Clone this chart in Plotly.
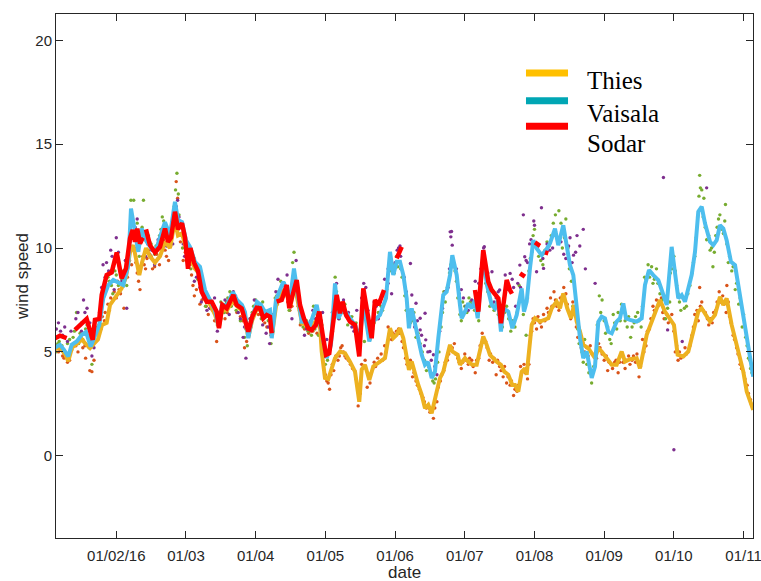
import plotly.graph_objects as go

# Time axis: fractional months since 1 Jan 2016 (1 = 1 Feb, 2 = 1 Mar, ...)
tick_pos = [1, 2, 3, 4, 5, 6, 7, 8, 9, 10]
tick_labels = ["01/02/16", "01/03", "01/04", "01/05", "01/06", "01/07",
               "01/08", "01/09", "01/10", "01/11"]
y_ticks = [0, 5, 10, 15, 20]

# Smoothed series
thies_t = [0.121, 0.192, 0.264, 0.311, 0.364, 0.436, 0.508, 0.551, 0.623, 0.680, 0.737, 0.795, 0.862, 0.910,
           1.006, 1.077, 1.139, 1.197, 1.244, 1.283, 1.330, 1.369, 1.426, 1.483, 1.555, 1.627, 1.699, 1.770,
           1.842, 1.885, 1.943, 2.000, 2.057, 2.129, 2.201, 2.273, 2.344, 2.416, 2.473, 2.516, 2.588, 2.674,
           2.732, 2.803, 2.846, 2.894, 2.947, 3.019, 3.076, 3.133, 3.205, 3.234, 3.291, 3.349, 3.406, 3.463,
           3.506, 3.549, 3.607, 3.664, 3.722, 3.779, 3.875, 3.922, 3.947, 3.994, 4.042, 4.090, 4.138, 4.209,
           4.281, 4.353, 4.425, 4.486, 4.521, 4.568, 4.630, 4.687, 4.759, 4.855, 4.927, 4.974, 5.023, 5.070,
           5.118, 5.166, 5.199, 5.238, 5.285, 5.333, 5.382, 5.429, 5.476, 5.525, 5.597, 5.644, 5.691, 5.740,
           5.788, 5.821, 5.898, 5.931, 6.003, 6.050, 6.108, 6.171, 6.218, 6.265, 6.314, 6.361, 6.458, 6.519,
           6.567, 6.624, 6.682, 6.720, 6.767, 6.816, 6.863, 6.888, 6.960, 7.007, 7.079, 7.198, 7.247, 7.318,
           7.366, 7.413, 7.470, 7.524, 7.567, 7.605, 7.653, 7.700, 7.772, 7.868, 7.915, 7.964, 8.036, 8.108,
           8.179, 8.251, 8.298, 8.370, 8.466, 8.513, 8.610, 8.681, 8.753, 8.800, 8.872, 8.944, 9.001, 9.054,
           9.135, 9.207, 9.279, 9.350, 9.399, 9.470, 9.518, 9.590, 9.661, 9.709, 9.757, 9.829, 9.901, 9.948,
           9.996, 10.045, 10.092, 10.138]
thies_v = [5.15, 5.2, 4.9, 4.55, 5.2, 5.4, 5.6, 5.42, 5.18, 5.4, 5.6, 6.3, 6.4, 7.26,
           7.74, 8.06, 8.6, 9.8, 10.14, 9.5, 8.7, 9.3, 10.0, 9.6, 9.3, 9.6, 10.3, 10.0,
           11.3, 10.6, 10.7, 10.0, 9.6, 9.0, 8.8, 7.6, 7.3, 6.8, 6.2, 7.0, 7.0, 7.5,
           7.2, 7.0, 6.6, 5.7, 6.5, 7.1, 7.0, 6.7, 6.8, 5.8, 7.2, 7.7, 8.0, 7.6,
           7.3, 8.4, 7.5, 6.4, 6.3, 6.2, 6.5, 6.3, 5.02, 3.75, 3.7, 4.2, 4.7, 5.02,
           4.94, 4.53, 4.05, 2.6, 4.15, 4.38, 3.65, 4.3, 4.45, 4.7, 6.14, 5.66, 5.82, 6.14,
           5.66, 4.86, 4.13, 4.53, 3.9, 3.41, 2.93, 2.29, 2.45, 2.05, 3.09, 3.74, 4.05, 4.7,
           5.34, 5.02, 4.86, 4.38, 4.7, 4.53, 4.38, 4.38, 5.02, 5.74, 5.34, 4.86, 4.53, 4.38,
           4.05, 3.9, 3.41, 3.41, 3.09, 4.05, 4.21, 3.9, 6.3, 6.62, 6.46, 6.62, 7.1, 7.42,
           7.1, 7.82, 7.1, 6.62, 7.26, 6.46, 5.98, 5.34, 5.18, 4.7, 5.18, 5.02, 4.7, 4.38,
           4.38, 5.02, 4.53, 4.65, 4.7, 4.21, 5.82, 6.46, 7.1, 7.5, 6.94, 6.62, 6.3, 4.86,
           4.78, 5.02, 5.98, 6.94, 7.1, 6.7, 6.46, 6.78, 7.66, 7.26, 7.58, 6.3, 5.34, 4.53,
           4.05, 3.09, 2.61, 2.21]

vaisala_t = [0.121, 0.192, 0.250, 0.311, 0.360, 0.432, 0.504, 0.565, 0.633, 0.694, 0.756, 0.813, 0.885, 0.957,
             1.024, 1.100, 1.172, 1.211, 1.268, 1.316, 1.364, 1.436, 1.508, 1.570, 1.651, 1.699, 1.770, 1.842,
             1.885, 1.943, 2.000, 2.057, 2.129, 2.201, 2.273, 2.344, 2.416, 2.463, 2.516, 2.588, 2.674, 2.732,
             2.803, 2.846, 2.894, 2.947, 3.019, 3.076, 3.133, 3.205, 3.230, 3.291, 3.349, 3.396, 3.449, 3.492,
             3.549, 3.607, 3.660, 3.722, 3.779, 3.875, 3.937, 4.019, 4.080, 4.138, 4.185, 4.257, 4.353, 4.425,
             4.496, 4.547, 4.582, 4.630, 4.687, 4.783, 4.869, 4.927, 4.974, 5.023, 5.070, 5.118, 5.166, 5.199,
             5.238, 5.333, 5.382, 5.429, 5.472, 5.525, 5.572, 5.620, 5.691, 5.740, 5.788, 5.821, 5.884, 5.931,
             5.955, 6.003, 6.050, 6.099, 6.146, 6.185, 6.232, 6.265, 6.318, 6.386, 6.433, 6.476, 6.519, 6.552,
             6.624, 6.682, 6.745, 6.816, 6.849, 6.888, 6.935, 6.983, 7.032, 7.103, 7.165, 7.222, 7.294, 7.341,
             7.413, 7.462, 7.509, 7.557, 7.605, 7.653, 7.700, 7.749, 7.821, 7.868, 7.915, 7.964, 8.011, 8.059,
             8.108, 8.179, 8.227, 8.274, 8.313, 8.370, 8.466, 8.538, 8.585, 8.643, 8.704, 8.776, 8.825, 8.897,
             8.968, 9.016, 9.063, 9.112, 9.159, 9.255, 9.303, 9.350, 9.399, 9.446, 9.518, 9.565, 9.614, 9.661,
             9.709, 9.757, 9.819, 9.877, 9.948, 9.996, 10.045, 10.092, 10.138]
vaisala_v = [5.21, 5.34, 5.1, 4.78, 5.34, 5.5, 5.82, 5.96, 5.26, 5.82, 6.3, 7.58, 8.22, 8.46,
             8.37, 8.22, 9.18, 11.9, 10.78, 9.82, 10.94, 10.3, 9.98, 9.9, 10.78, 11.25, 10.62, 12.23,
             11.35, 11.25, 10.38, 10.06, 9.33, 9.1, 7.98, 7.5, 7.02, 6.3, 7.26, 7.26, 7.88, 7.5,
             7.26, 6.92, 5.66, 6.63, 7.4, 7.26, 6.92, 7.02, 5.66, 7.5, 8.06, 8.38, 7.98, 7.5,
             9.02, 7.74, 6.46, 6.44, 6.3, 7.26, 6.06, 4.7, 5.34, 8.3, 6.62, 7.1, 6.62, 6.3,
             5.66, 7.5, 6.54, 5.5, 6.46, 6.78, 7.58, 9.82, 8.7, 9.34, 9.34, 8.7, 7.58, 6.14,
             7.1, 5.66, 4.86, 4.38, 4.52, 3.74, 4.05, 5.66, 7.74, 7.9, 8.7, 9.66, 8.7, 7.26,
             6.62, 6.94, 7.34, 7.1, 7.5, 6.62, 8.4, 9.66, 8.22, 7.26, 7.1, 7.5, 5.98, 7.1,
             6.94, 6.14, 6.78, 8.06, 6.94, 7.42, 9.02, 10.38, 9.98, 9.66, 9.9, 10.22, 10.94, 10.14,
             11.1, 10.14, 9.18, 8.7, 7.26, 5.66, 4.7, 5.02, 3.75, 4.29, 6.44, 6.7, 6.62, 5.98,
             5.9, 6.46, 6.63, 7.34, 6.62, 6.54, 6.46, 6.62, 8.22, 8.94, 8.7, 8.46, 7.98, 7.26,
             10.06, 8.86, 7.58, 7.74, 7.42, 8.7, 9.82, 11.75, 11.99, 11.19, 10.3, 10.14, 10.38, 11.1,
             10.94, 10.38, 9.34, 9.18, 7.74, 6.62, 5.66, 4.53, 3.81]

# Sodar has gaps (None) where too few samples were available
sodar_t = [0.121, 0.192, 0.288, None,
           0.407, 0.455, 0.527, 0.575, 0.661, 0.694, 0.756, 0.791, 0.862, 0.934, 1.006, 1.077, 1.139, 1.197,
           1.235, 1.268, 1.301, 1.340, 1.379, None,
           1.426, 1.483, 1.555, 1.627, 1.699, 1.742, 1.785, 1.842, 1.885, 1.943, 1.986, 2.029, 2.064, 2.115,
           2.172, 2.225, 2.297, 2.369, 2.440, 2.473, 2.521, 2.584, 2.679, 2.727, 2.799, 2.836, 2.894, 2.951,
           3.014, 3.062, 3.109, 3.158, 3.205, 3.230, None,
           3.301, 3.373, 3.445, 3.482, 3.535, 3.588, 3.636, 3.693, 3.755, 3.803, 3.865, 3.912, 3.961, 4.009,
           4.056, 4.113, 4.162, 4.209, 4.248, 4.296, 4.353, 4.425, 4.486, 4.544, 4.616, 4.664, 4.712, 4.759,
           4.798, 4.841, None,
           5.023, 5.056, 5.095, None,
           6.146, 6.194, 6.265, 6.337, 6.386, 6.433, 6.481, 6.519, 6.555, 6.601, 6.648, 6.677, None,
           6.792, 6.863, None, 7.007, 7.079, None, 7.151, 7.198]
sodar_v = [5.66, 5.78, 5.66, None,
           6.06, 6.22, 6.4, 6.59, 5.58, 6.54, 6.59, 7.74, 8.70, 8.83, 9.79, 8.54, 9.02, 10.47,
           10.87, 10.3, 10.94, 10.22, 10.5, None,
           10.9, 10.14, 9.79, 10.06, 10.94, 10.3, 10.5, 11.75, 10.9, 11.2, 10.5, 9.0, 10.0, 9.3,
           8.9, 7.9, 7.42, 7.42, 6.94, 6.14, 7.26, 7.1, 7.74, 7.26, 7.1, 6.62, 5.98, 6.7,
           7.13, 7.1, 6.62, 6.78, 6.7, 5.9, None,
           7.42, 7.5, 8.22, 7.1, 7.8, 8.46, 7.26, 6.6, 6.14, 6.06, 6.3, 6.94, 5.82, 4.86,
           4.94, 6.62, 7.74, 6.86, 7.42, 6.78, 6.46, 6.3, 4.78, 8.06, 6.78, 5.66, 7.5, 7.26,
           7.58, 7.98, None,
           9.5, 9.8, 10.06, None,
           7.98, 6.94, 9.9, 8.38, 7.98, 7.8, 7.58, 6.38, 7.3, 8.46, 7.98, 7.8, None,
           8.78, 8.62, None, 10.27, 10.11, None, 9.79, 9.74]

# Raw samples
thies_raw_t = [0.14, 0.2, 0.25, 0.3, 0.36, 0.42, 0.47, 0.52, 0.56, 0.62, 0.64, 0.65, 0.7, 0.75, 0.8, 0.84,
               0.88, 0.92, 0.97, 1.02, 1.06, 1.11, 1.16, 1.22, 1.26, 1.3, 1.34, 1.38, 1.42, 1.46, 1.5, 1.55,
               1.6, 1.65, 1.7, 1.75, 1.8, 1.86, 1.88, 1.92, 1.96, 2.02, 2.08, 2.12, 2.2, 2.26, 2.32, 2.38,
               2.44, 2.5, 2.56, 2.62, 2.7, 2.78, 2.84, 2.9, 2.96, 3.04, 3.1, 3.16, 3.22, 3.28, 3.34, 3.4,
               3.46, 3.52, 3.58, 3.64, 3.7, 3.76, 3.82, 3.88, 3.94, 3.98, 4.02, 4.06, 4.12, 4.18, 4.22, 4.26,
               4.3, 4.36, 4.42, 4.47, 4.5, 4.55, 4.6, 4.66, 4.7, 4.75, 4.8, 4.85, 4.9, 4.95, 5.0, 5.05,
               5.1, 5.15, 5.2, 5.25, 5.3, 5.35, 5.4, 5.45, 5.5, 5.55, 5.6, 5.65, 5.7, 5.75, 5.8, 5.85,
               5.9, 5.95, 6.0, 6.05, 6.1, 6.15, 6.2, 6.25, 6.3, 6.35, 6.4, 6.45, 6.5, 6.55, 6.6, 6.65,
               6.7, 6.75, 6.8, 6.85, 6.9, 6.94, 6.98, 7.03, 7.08, 7.13, 7.18, 7.23, 7.28, 7.32, 7.37, 7.42,
               7.47, 7.52, 7.57, 7.62, 7.67, 7.72, 7.77, 7.83, 7.89, 7.94, 8.0, 8.05, 8.1, 8.15, 8.2, 8.25,
               8.3, 8.35, 8.4, 8.45, 8.5, 8.55, 8.6, 8.65, 8.7, 8.75, 8.8, 8.86, 8.92, 8.97, 9.02, 9.06,
               9.1, 9.16, 9.2, 9.26, 9.3, 9.35, 9.37, 9.4, 9.45, 9.5, 9.55, 9.6, 9.65, 9.7, 9.75, 9.76,
               9.8, 9.85, 9.9, 9.95, 10.0, 10.05, 10.1, 10.13,
               0.17, 0.23, 0.33, 0.39, 0.45, 0.5, 0.55, 0.6, 0.68, 0.72, 0.78, 0.83, 0.9, 0.95, 1.0, 1.04,
               1.09, 1.13, 1.19, 1.28, 1.32, 1.4, 1.44, 1.52, 1.58, 1.62, 1.68, 1.72, 1.78, 1.83, 1.9, 1.94,
               1.99, 2.05, 2.1, 2.15, 2.23, 2.29, 2.35, 2.41, 2.47, 2.53, 2.59, 2.66, 2.73, 2.81, 2.87, 2.93,
               2.99, 3.07, 3.13, 3.19, 3.25, 3.31, 3.37, 3.43, 3.49, 3.55, 3.61, 3.67, 3.73, 3.79, 3.85, 3.91,
               3.96, 4.0, 4.04, 4.08, 4.1, 4.15, 4.2, 4.24, 4.28, 4.33, 4.39, 4.44, 4.48, 4.52, 4.57, 4.62,
               4.64, 4.68, 4.72, 4.77, 4.82, 4.87, 4.92, 4.97, 5.02, 5.07, 5.12, 5.17, 5.22, 5.27, 5.32, 5.37,
               5.42, 5.47, 5.52, 5.57, 5.62, 5.67, 5.72, 5.77, 5.82, 5.87, 5.92, 5.97, 6.02, 6.07, 6.12, 6.17,
               6.22, 6.27, 6.32, 6.37, 6.42, 6.47, 6.52, 6.57, 6.62, 6.67, 6.72, 6.77, 6.82, 6.87, 6.92, 6.96,
               7.0, 7.05, 7.1, 7.15, 7.2, 7.25, 7.3, 7.35, 7.4, 7.45, 7.5, 7.55, 7.6, 7.65, 7.7, 7.75,
               7.8, 7.86, 7.92, 7.97, 8.03, 8.07, 8.12, 8.17, 8.22, 8.27, 8.32, 8.37, 8.42, 8.47, 8.52, 8.57,
               8.62, 8.67, 8.72, 8.77, 8.82, 8.84, 8.9, 8.95, 9.0, 9.04, 9.08, 9.13, 9.18, 9.23, 9.28, 9.33,
               9.38, 9.42, 9.48, 9.52, 9.57, 9.62, 9.67, 9.72, 9.78, 9.82, 9.87, 9.92, 9.97, 10.02, 10.07, 10.11]
thies_raw_v = [5.3, 5.1, 4.7, 4.5, 5.1, 5.3, 5.6, 5.2, 4.7, 4.1, 5.5, 4.05, 5.5, 6.3, 6.7, 6.9,
               7.3, 7.6, 7.9, 8.4, 7.8, 7.1, 8.6, 9.2, 10.0, 8.8, 8.0, 9.6, 9.0, 9.9, 9.6, 9.1,
               9.5, 10.1, 9.9, 9.4, 10.6, 13.2, 12.4, 10.3, 9.4, 9.5, 8.7, 7.7, 7.3, 8.1, 6.8, 7.0,
               5.5, 6.8, 6.6, 7.2, 7.3, 6.7, 5.2, 5.8, 6.9, 6.8, 6.6, 6.2, 5.8, 7.0, 7.5, 7.7,
               7.4, 7.2, 8.2, 6.3, 6.1, 5.9, 6.0, 5.9, 6.5, 4.4, 3.6, 3.2, 4.1, 4.6, 5.2, 5.0,
               4.7, 4.4, 4.1, 2.4, 3.0, 4.3, 3.3, 4.0, 4.5, 4.7, 4.9, 5.3, 6.2, 5.6, 5.8, 6.1,
               5.5, 4.7, 4.3, 3.8, 3.6, 3.2, 2.8, 2.3, 2.1, 1.8, 2.6, 3.6, 4.1, 4.6, 5.1, 5.4,
               4.7, 4.2, 4.9, 4.4, 4.6, 4.0, 4.7, 5.9, 5.5, 4.6, 4.5, 3.9, 4.3, 3.8, 3.5, 3.4,
               2.9, 3.1, 4.3, 4.4, 3.7, 5.8, 6.6, 6.1, 6.4, 6.8, 7.1, 7.6, 7.9, 7.2, 7.6, 8.1,
               7.3, 6.6, 6.9, 5.7, 5.2, 5.0, 4.8, 4.9, 4.7, 5.2, 4.6, 4.1, 4.4, 4.5, 4.0, 4.9,
               4.2, 4.8, 4.6, 4.5, 3.8, 5.6, 5.3, 6.1, 7.2, 7.5, 7.3, 6.6, 6.4, 6.8, 5.0, 4.6,
               4.7, 5.2, 5.0, 5.8, 6.8, 6.5, 8.1, 7.4, 6.9, 6.3, 6.4, 7.0, 7.9, 7.7, 6.9, 8.2,
               6.7, 5.8, 5.2, 4.4, 4.0, 3.4, 2.7, 2.3,
               5.0, 4.8, 4.6, 5.4, 5.0, 5.8, 5.3, 5.7, 4.6, 5.9, 6.1, 6.5, 7.0, 7.5, 7.6, 8.0,
               8.3, 8.8, 9.4, 9.3, 8.4, 9.2, 9.5, 9.0, 9.7, 9.2, 10.4, 9.6, 10.1, 11.0, 11.2, 10.7,
               9.8, 9.2, 8.2, 8.0, 7.5, 7.2, 7.5, 6.5, 6.4, 7.3, 6.9, 7.6, 6.9, 6.5, 5.5, 6.2,
               7.2, 7.0, 6.4, 6.9, 6.4, 7.3, 7.9, 7.8, 7.0, 8.0, 7.2, 6.6, 6.2, 6.0, 6.4, 6.2,
               5.3, 3.9, 3.5, 3.9, 4.4, 4.8, 4.8, 5.3, 4.8, 4.6, 4.2, 3.7, 2.8, 4.4, 4.6, 3.8,
               3.5, 4.2, 4.3, 4.5, 4.6, 5.0, 5.9, 5.9, 6.0, 5.9, 5.2, 4.4, 4.6, 4.0, 3.4, 3.0,
               2.6, 2.4, 2.2, 2.3, 3.3, 3.9, 4.5, 4.9, 5.2, 4.9, 4.5, 4.5, 4.6, 4.7, 4.3, 4.6,
               5.3, 5.6, 5.2, 4.9, 4.7, 4.6, 4.1, 4.3, 3.8, 3.6, 3.2, 3.4, 4.0, 4.0, 4.4, 6.0,
               6.4, 6.7, 6.2, 6.5, 6.9, 7.2, 7.5, 7.0, 7.7, 7.8, 6.9, 7.4, 6.2, 5.8, 5.4, 5.2,
               5.3, 4.8, 5.4, 4.9, 4.8, 4.5, 4.2, 4.6, 4.5, 4.5, 4.6, 4.4, 4.8, 4.9, 4.3, 5.0,
               6.0, 6.6, 7.0, 7.2, 7.6, 6.9, 6.8, 6.5, 6.0, 5.3, 5.0, 4.8, 4.9, 5.3, 6.2, 7.0,
               7.2, 7.0, 6.6, 6.6, 6.9, 7.4, 7.4, 7.3, 7.4, 6.4, 5.6, 4.9, 4.2, 3.7, 3.0, 2.5]

vaisala_raw_t = [0.13, 0.18, 0.22, 0.28, 0.33, 0.38, 0.43, 0.48, 0.52, 0.58, 0.65, 0.7, 0.75, 0.8, 0.85, 0.9,
                 0.95, 1.0, 1.05, 1.1, 1.15, 1.21, 1.25, 1.3, 1.35, 1.39, 1.43, 1.48, 1.52, 1.57, 1.62, 1.66,
                 1.7, 1.75, 1.8, 1.85, 1.87, 1.9, 1.95, 1.98, 2.03, 2.07, 2.12, 2.17, 2.22, 2.28, 2.34, 2.4,
                 2.45, 2.5, 2.55, 2.6, 2.65, 2.72, 2.78, 2.84, 2.88, 2.92, 2.97, 3.03, 3.08, 3.13, 3.18, 3.22,
                 3.28, 3.33, 3.38, 3.43, 3.48, 3.55, 3.6, 3.65, 3.7, 3.75, 3.8, 3.85, 3.9, 3.95, 4.0, 4.05,
                 4.1, 4.14, 4.2, 4.26, 4.32, 4.38, 4.44, 4.5, 4.56, 4.62, 4.68, 4.74, 4.8, 4.86, 4.92, 4.97,
                 5.02, 5.08, 5.14, 5.2, 5.24, 5.3, 5.36, 5.42, 5.48, 5.54, 5.58, 5.63, 5.68, 5.72, 5.78, 5.83,
                 5.88, 5.93, 5.97, 6.03, 6.08, 6.14, 6.2, 6.26, 6.3, 6.36, 6.42, 6.48, 6.54, 6.6, 6.66, 6.72,
                 6.78, 6.84, 6.88, 6.92, 6.96, 7.0, 7.06, 7.12, 7.18, 7.24, 7.3, 7.35, 7.4, 7.45, 7.5, 7.55,
                 7.62, 7.68, 7.75, 7.82, 7.88, 7.93, 7.97, 8.02, 8.08, 8.13, 8.18, 8.23, 8.28, 8.33, 8.38, 8.43,
                 8.48, 8.53, 8.58, 8.63, 8.68, 8.72, 8.77, 8.83, 8.88, 8.94, 8.97, 9.02, 9.06, 9.1, 9.15, 9.2,
                 9.26, 9.3, 9.34, 9.37, 9.4, 9.43, 9.47, 9.52, 9.56, 9.6, 9.64, 9.67, 9.71, 9.74, 9.78, 9.83,
                 9.88, 9.93, 9.98, 10.03, 10.07, 10.1,
                 0.16, 0.24, 0.3, 0.36, 0.4, 0.46, 0.5, 0.56, 0.61, 0.68, 0.73, 0.78, 0.83, 0.88, 0.93, 0.98,
                 1.03, 1.08, 1.13, 1.18, 1.23, 1.28, 1.33, 1.37, 1.41, 1.46, 1.5, 1.55, 1.6, 1.64, 1.68, 1.73,
                 1.78, 1.83, 1.89, 1.92, 1.97, 2.01, 2.05, 2.1, 2.15, 2.2, 2.25, 2.31, 2.37, 2.43, 2.48, 2.53,
                 2.58, 2.63, 2.69, 2.75, 2.81, 2.86, 2.9, 2.95, 3.0, 3.05, 3.1, 3.15, 3.2, 3.25, 3.3, 3.36,
                 3.41, 3.46, 3.51, 3.53, 3.58, 3.63, 3.68, 3.73, 3.78, 3.83, 3.88, 3.93, 3.98, 4.03, 4.08, 4.12,
                 4.16, 4.22, 4.28, 4.34, 4.4, 4.46, 4.52, 4.58, 4.64, 4.7, 4.76, 4.82, 4.88, 4.94, 4.99, 5.04,
                 5.1, 5.16, 5.22, 5.27, 5.33, 5.39, 5.45, 5.51, 5.56, 5.61, 5.66, 5.7, 5.75, 5.8, 5.86, 5.9,
                 5.95, 6.0, 6.06, 6.11, 6.17, 6.22, 6.28, 6.33, 6.39, 6.45, 6.51, 6.57, 6.63, 6.69, 6.75, 6.81,
                 6.86, 6.9, 6.94, 6.98, 7.03, 7.09, 7.15, 7.21, 7.27, 7.33, 7.38, 7.43, 7.48, 7.53, 7.58, 7.64,
                 7.7, 7.72, 7.78, 7.85, 7.9, 7.95, 8.0, 8.05, 8.1, 8.15, 8.2, 8.25, 8.3, 8.35, 8.4, 8.45,
                 8.5, 8.55, 8.6, 8.65, 8.7, 8.75, 8.8, 8.86, 8.91, 8.95, 9.0, 9.04, 9.08, 9.13, 9.18, 9.23,
                 9.28, 9.32, 9.36, 9.38, 9.42, 9.45, 9.5, 9.54, 9.58, 9.62, 9.66, 9.69, 9.73, 9.76, 9.8, 9.85,
                 9.9, 9.95, 10.0, 10.05, 10.09, 10.12]
vaisala_raw_v = [5.0, 5.5, 5.3, 4.9, 5.6, 5.7, 6.9, 5.9, 5.6, 6.3, 4.4, 6.0, 6.5, 7.4, 8.0, 8.4,
                 7.8, 8.7, 8.9, 8.9, 8.2, 12.3, 12.3, 11.2, 10.5, 12.3, 10.8, 10.3, 9.9, 10.1, 10.6, 11.5,
                 10.7, 10.2, 11.2, 12.8, 13.6, 11.6, 10.0, 10.3, 9.8, 9.0, 9.5, 8.5, 8.3, 7.2, 7.5, 7.0,
                 6.3, 7.4, 6.9, 7.6, 7.2, 7.0, 6.5, 5.7, 5.3, 6.6, 7.2, 7.3, 6.6, 6.9, 6.5, 5.4,
                 7.6, 7.9, 8.2, 7.9, 7.0, 9.8, 7.6, 6.4, 6.6, 6.0, 5.8, 6.1, 5.8, 6.3, 4.4, 5.0,
                 6.0, 8.6, 6.6, 6.9, 6.3, 6.7, 6.4, 5.3, 5.5, 5.9, 6.1, 6.6, 7.2, 7.5, 8.9, 9.2,
                 9.6, 9.0, 7.7, 6.7, 6.5, 5.7, 5.4, 4.6, 4.3, 3.6, 3.7, 5.0, 6.9, 7.4, 8.8, 9.1,
                 8.4, 6.8, 7.4, 6.9, 7.4, 7.0, 6.5, 9.2, 8.3, 7.2, 7.0, 6.8, 6.2, 7.2, 6.0, 6.2,
                 8.2, 6.8, 5.8, 8.9, 9.8, 10.9, 9.6, 9.2, 10.3, 10.6, 11.6, 11.8, 10.0, 11.4, 9.0, 7.2,
                 6.1, 5.0, 4.4, 3.5, 5.0, 7.7, 7.5, 5.9, 5.6, 6.8, 6.1, 6.5, 7.0, 6.2, 5.7, 6.4,
                 6.9, 6.2, 8.6, 9.2, 9.1, 8.5, 8.3, 7.5, 6.6, 7.4, 9.0, 8.9, 7.8, 7.0, 7.1, 7.8,
                 8.8, 9.6, 11.5, 13.5, 12.8, 12.4, 10.4, 9.9, 9.1, 10.6, 11.4, 11.0, 10.7, 12.1, 9.3, 8.9,
                 8.0, 7.3, 6.2, 5.7, 4.7, 4.2,
                 5.4, 5.0, 5.4, 5.1, 6.0, 5.4, 6.4, 6.1, 5.2, 5.8, 6.2, 6.9, 7.7, 8.6, 8.2, 8.9,
                 8.2, 8.5, 8.8, 9.6, 11.5, 10.9, 9.6, 11.0, 10.4, 10.6, 10.2, 9.7, 10.2, 10.9, 11.3, 10.5,
                 10.9, 12.0, 12.6, 11.0, 10.6, 10.1, 9.5, 9.2, 8.9, 8.7, 7.7, 7.6, 7.3, 6.8, 6.9, 7.1,
                 7.4, 7.9, 7.5, 7.3, 7.0, 6.1, 5.8, 6.9, 7.5, 7.1, 7.4, 6.7, 6.9, 6.0, 7.7, 8.4,
                 8.3, 7.6, 7.8, 9.3, 8.0, 7.0, 6.2, 6.5, 6.4, 7.2, 6.8, 6.1, 5.0, 4.6, 5.5, 7.2,
                 7.9, 7.0, 7.3, 6.7, 6.3, 6.0, 6.8, 6.7, 5.6, 6.4, 6.9, 7.0, 8.0, 9.4, 8.8, 9.1,
                 8.6, 7.0, 6.4, 6.9, 5.9, 5.0, 4.1, 4.0, 3.5, 4.5, 6.2, 7.9, 8.1, 9.2, 8.9, 7.6,
                 6.5, 7.2, 7.6, 7.3, 7.2, 7.9, 9.5, 7.9, 7.3, 7.2, 6.4, 6.9, 6.6, 6.5, 6.9, 7.6,
                 7.2, 7.6, 9.5, 10.6, 10.2, 9.4, 9.9, 10.1, 11.2, 10.5, 11.2, 10.5, 10.0, 8.4, 7.0, 5.4,
                 4.5, 5.6, 4.0, 4.3, 6.3, 6.9, 6.5, 6.2, 5.4, 6.4, 6.9, 7.3, 6.5, 6.7, 6.2, 6.7,
                 6.5, 7.2, 8.5, 8.6, 8.3, 9.0, 7.8, 7.0, 7.1, 8.8, 9.6, 8.2, 7.4, 7.6, 7.2, 8.2,
                 9.3, 10.5, 12.5, 12.9, 11.5, 11.0, 10.6, 10.0, 9.8, 11.0, 11.6, 10.9, 11.3, 10.2, 9.6, 9.1,
                 8.3, 7.6, 6.8, 5.3, 4.6, 4.0]

sodar_raw_t = [0.14, 0.2, 0.26, 0.3, 0.42, 0.48, 0.53, 0.58, 0.65, 0.7, 0.76, 0.81, 0.86, 0.92, 0.97, 1.0,
               1.05, 1.1, 1.15, 1.24, 1.3, 1.36, 1.42, 1.48, 1.55, 1.6, 1.66, 1.72, 1.78, 1.84, 1.88, 1.93,
               1.98, 2.05, 2.12, 2.2, 2.25, 2.3, 2.38, 2.45, 2.5, 2.56, 2.62, 2.68, 2.75, 2.82, 2.86, 2.9,
               2.95, 3.02, 3.1, 3.15, 3.2, 3.26, 3.32, 3.38, 3.45, 3.52, 3.58, 3.64, 3.7, 3.76, 3.82, 3.9,
               3.96, 4.02, 4.1, 4.16, 4.22, 4.3, 4.38, 4.45, 4.52, 4.58, 4.64, 4.7, 4.76, 4.82, 4.9, 4.95,
               5.0, 5.05, 5.07, 5.16, 5.22, 5.24, 5.28, 5.3, 5.36, 5.36, 5.43, 5.44, 5.5, 5.55, 5.6, 5.68,
               5.76, 5.79, 5.8, 5.82, 5.88, 5.95, 6.02, 6.1, 6.15, 6.2, 6.28, 6.3, 6.39, 6.45, 6.5, 6.58,
               6.65, 6.7, 6.76, 6.79, 6.84, 6.86, 6.9, 6.95, 7.0, 7.03, 7.1, 7.13, 7.22, 7.3, 7.38, 7.45,
               7.51, 7.56, 7.61, 7.7, 7.87, 8.85, 8.91, 9.0, 9.12, 9.47,
               0.17, 0.23, 0.35, 0.45, 0.5, 0.55, 0.62, 0.68, 0.73, 0.79, 0.84, 0.89, 0.94, 1.03, 1.08, 1.13,
               1.2, 1.27, 1.33, 1.39, 1.45, 1.51, 1.58, 1.63, 1.69, 1.75, 1.81, 1.86, 1.9, 1.96, 2.02, 2.08,
               2.15, 2.22, 2.28, 2.34, 2.41, 2.47, 2.53, 2.59, 2.65, 2.71, 2.78, 2.84, 2.92, 2.98, 3.05, 3.12,
               3.18, 3.23, 3.29, 3.35, 3.42, 3.48, 3.55, 3.61, 3.67, 3.73, 3.79, 3.86, 3.93, 3.99, 4.05, 4.12,
               4.19, 4.26, 4.33, 4.41, 4.48, 4.55, 4.61, 4.67, 4.73, 4.79, 4.85, 4.9,
               5.03, 5.08, 5.13, 5.2, 5.26, 5.32, 5.38, 5.42, 5.47, 5.52, 5.57, 5.64, 5.72, 5.78, 5.81, 5.85,
               5.92, 5.98, 6.05, 6.13, 6.18, 6.23, 6.27, 6.33, 6.42, 6.48, 6.53, 6.6, 6.68, 6.73, 6.8, 6.88,
               6.93, 6.99, 7.05, 7.12, 7.18, 7.26, 7.34, 7.42, 7.49, 7.54, 7.59, 7.65, 7.73]
sodar_raw_v = [6.1, 6.0, 6.2, 5.5, 6.6, 6.3, 7.5, 7.1, 4.8, 5.9, 6.9, 9.2, 9.3, 9.9, 8.0, 10.5,
               7.9, 8.7, 7.1, 10.8, 11.4, 10.3, 9.6, 9.7, 9.2, 10.4, 9.9, 10.1, 10.5, 11.1, 12.3, 10.7,
               9.6, 9.4, 8.4, 8.1, 7.6, 7.0, 7.2, 6.0, 6.6, 7.5, 6.8, 7.9, 6.9, 5.7, 4.7, 6.1,
               6.8, 7.4, 6.3, 5.9, 5.4, 6.5, 8.5, 7.7, 8.7, 6.6, 9.4, 7.2, 5.8, 6.3, 7.0, 6.4,
               6.9, 5.6, 6.9, 8.3, 7.0, 6.7, 6.2, 7.0, 7.6, 8.1, 6.1, 7.4, 6.6, 7.7, 8.3, 7.8,
               9.3, 10.0, 10.1, 7.9, 9.26, 7.74, 6.2, 7.34, 6.62, 6.06, 6.86, 5.58, 5.02, 4.86, 3.9, 7.1,
               8.1, 10.78, 10.54, 10.14, 9.0, 8.0, 7.2, 7.5, 8.4, 8.3, 10.06, 9.1, 8.86, 7.6, 7.98, 8.7,
               8.78, 8.1, 8.3, 9.18, 11.6, 9.58, 9.3, 10.4, 11.1, 8.86, 11.94, 9.02, 9.9, 10.8, 10.3, 9.5,
               10.5, 9.66, 10.6, 10.9, 8.3, 13.4, 6.06, 0.29, 5.5, 12.9,
               6.4, 5.8, 6.0, 6.9, 6.0, 6.9, 6.4, 5.2, 6.1, 8.1, 8.6, 8.9, 9.6, 9.8, 8.4, 9.4,
               10.3, 11.0, 10.1, 10.5, 10.2, 9.9, 9.9, 10.4, 10.6, 10.7, 10.2, 12.0, 11.5, 10.2, 9.8, 9.7,
               8.6, 7.4, 7.9, 7.1, 7.6, 6.4, 7.1, 7.3, 7.4, 7.7, 6.6, 6.2, 6.6, 7.5, 7.2, 6.9,
               6.2, 6.8, 7.9, 7.6, 8.2, 7.5, 8.6, 7.8, 6.5, 6.1, 6.5, 6.6, 6.1, 5.1, 5.0, 7.5,
               6.6, 7.5, 6.9, 6.0, 5.3, 8.3, 7.0, 5.9, 7.2, 7.4, 8.5, 9.0,
               9.9, 9.6, 8.6, 6.8, 6.8, 6.5, 5.8, 5.3, 5.0, 4.6, 4.3, 6.0, 7.9, 9.0, 10.8, 9.2,
               7.8, 7.6, 7.0, 7.4, 7.0, 9.0, 10.0, 8.8, 7.4, 7.9, 7.2, 8.0, 8.5, 7.2, 8.1, 9.4,
               10.2, 11.3, 10.1, 9.5, 10.2, 10.0, 10.5, 9.7, 10.1, 9.3, 9.8, 10.1, 9.0]

fig = go.Figure()

dot_style = dict(mode="markers", hoverinfo="skip", showlegend=False)
fig.add_trace(go.Scatter(x=thies_raw_t, y=thies_raw_v, marker=dict(color="#D95319", size=3.4), **dot_style))
fig.add_trace(go.Scatter(x=vaisala_raw_t, y=vaisala_raw_v, marker=dict(color="#77AC30", size=3.4), **dot_style))
fig.add_trace(go.Scatter(x=sodar_raw_t, y=sodar_raw_v, marker=dict(color="#7E2F8E", size=3.4), **dot_style))

fig.add_trace(go.Scatter(x=thies_t, y=thies_v, mode="lines", name="Thies", showlegend=False,
                         line=dict(color="#EDB120", width=4)))
fig.add_trace(go.Scatter(x=vaisala_t, y=vaisala_v, mode="lines", name="Vaisala", showlegend=False,
                         line=dict(color="#4DBEEE", width=4)))
fig.add_trace(go.Scatter(x=sodar_t, y=sodar_v, mode="lines", name="Sodar", showlegend=False,
                         connectgaps=False, line=dict(color="#FF0000", width=4.5)))

# Hand-drawn legend: colour bars with serif labels beside them
legend_items = [("Thies", "#FFC000", 0.8874, 0.8723),
                ("Vaisala", "#00A6B4", 0.8345, 0.8105),
                ("Sodar", "#FF0000", 0.7857, 0.7532)]
for label, color, bar_y, text_y in legend_items:
    fig.add_shape(type="line", xref="paper", yref="paper", x0=0.6743, x1=0.7346, y0=bar_y, y1=bar_y,
                  line=dict(color=color, width=7))
    fig.add_annotation(xref="paper", yref="paper", x=0.7590, y=text_y, text=label, showarrow=False,
                       xanchor="left", yanchor="middle",
                       font=dict(family="Liberation Serif, serif", size=25, color="#000000"))

axis_font = dict(family="Liberation Sans, Arial, sans-serif", size=15, color="#262626")
fig.add_annotation(xref="paper", yref="paper", x=0.5, y=-0.0650, text="date", showarrow=False,
                   xanchor="center", yanchor="middle",
                   font=dict(family="Liberation Sans, Arial, sans-serif", size=17, color="#262626"))
fig.add_annotation(xref="paper", yref="paper", x=-0.0488, y=0.5, text="wind speed", showarrow=False,
                   textangle=-90, xanchor="center", yanchor="middle",
                   font=dict(family="Liberation Sans, Arial, sans-serif", size=17, color="#262626"))

fig.update_xaxes(range=[0.135, 10.135], tickmode="array", tickvals=tick_pos, ticktext=tick_labels,
                 ticks="inside", ticklen=7, tickcolor="#262626", tickwidth=1, ticklabelstandoff=4,
                 ticklabeloverflow="allow", automargin=False,
                 showline=True, linecolor="#262626", linewidth=1, mirror="allticks",
                 showgrid=False, zeroline=False, tickfont=axis_font)
fig.update_yaxes(range=[-3.96, 21.27], tickmode="array", tickvals=y_ticks, automargin=False,
                 ticks="inside", ticklen=7, tickcolor="#262626", tickwidth=1,
                 showline=True, linecolor="#262626", linewidth=1, mirror="allticks",
                 showgrid=False, zeroline=False, tickfont=axis_font)

fig.update_layout(width=761, height=581, margin=dict(l=56, r=8, t=14, b=43),
                  plot_bgcolor="white", paper_bgcolor="white")

fig.write_html("out.html")
